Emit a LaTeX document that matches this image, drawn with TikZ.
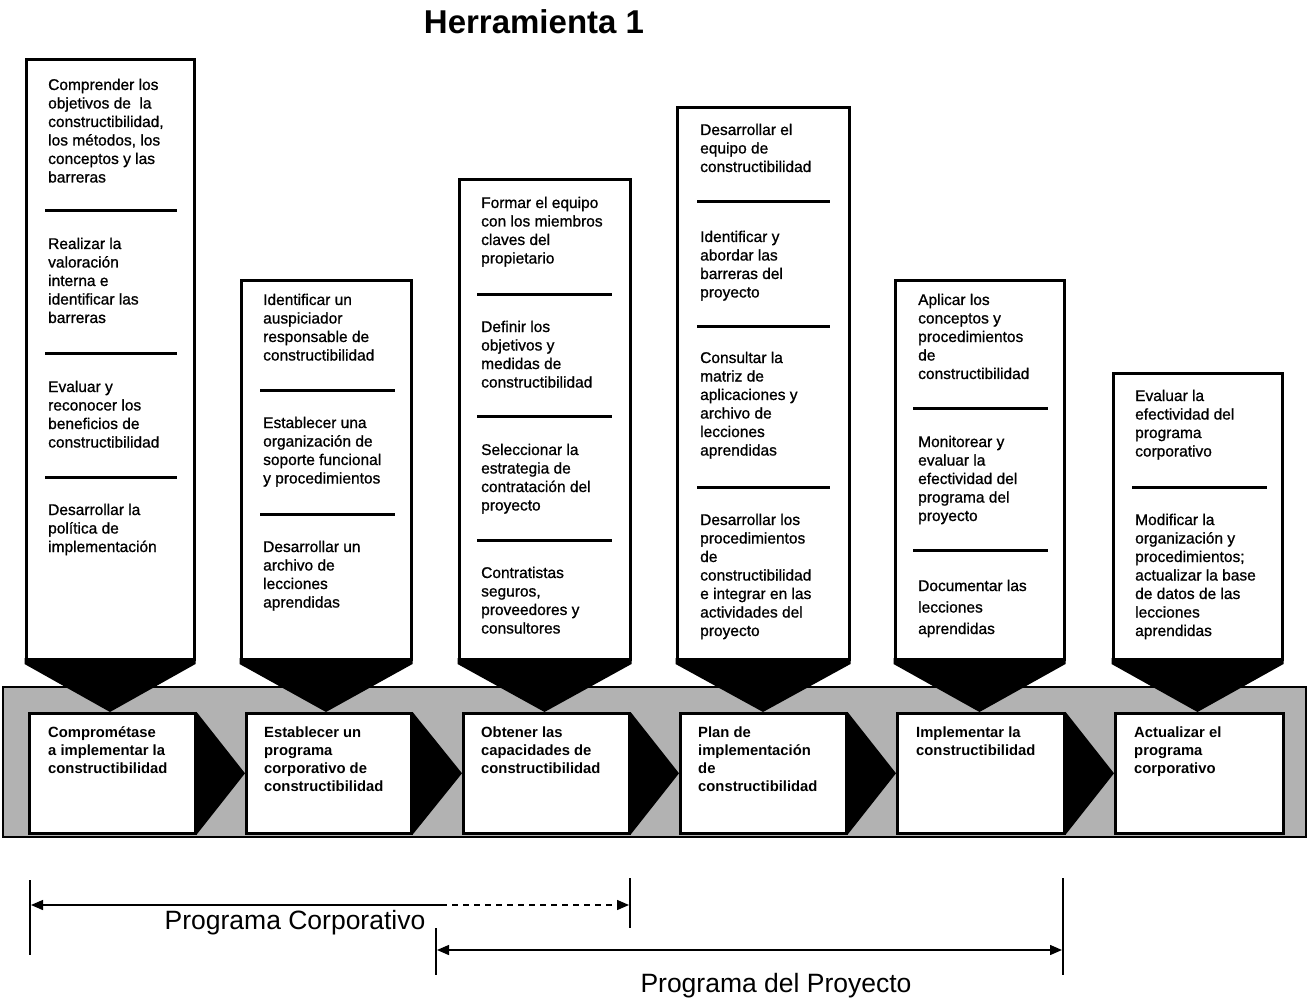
\documentclass[tikz,border=0pt]{standalone}
\usepackage{fontspec}
\setmainfont{Liberation Sans}
\newfontfamily\taskfont{Liberation Sans}[AutoFakeBold=0.9]
\usetikzlibrary{arrows.meta}
% a block of left-aligned lines whose baseline is that of its first line
\newcommand\lineblock[1]{\begin{tabular}[t]{@{}l@{}}#1\end{tabular}}
\begin{document}
\begin{tikzpicture}[x=1pt,y=-1pt,
  band/.style={draw=black,line width=1.6pt,fill=black!30},
  colbox/.style={draw=black,line width=3pt,fill=white},
  chevron/.style={fill=black},
  pointer/.style={fill=black},
  sepline/.style={line width=3pt},
  stepbox/.style={draw=black,line width=2.6pt,fill=white},
  item/.style={anchor=base west,inner sep=0pt,font=\taskfont\bfseries\fontsize{15.5}{18.5}\selectfont},
  steptext/.style={anchor=base west,inner sep=0pt,font=\bfseries\fontsize{14.8}{18.3}\selectfont},
  tick/.style={line width=1.4pt},
  span/.style={line width=1.4pt},
  tip/.style={-{Triangle[length=12pt,width=10pt]}},
  label/.style={anchor=base,inner sep=0pt,font=\fontsize{26.5}{30}\selectfont}
]
\useasboundingbox (0,0) rectangle (1311,1000);

% title
\node[anchor=base,inner sep=0pt,font=\bfseries\fontsize{33}{38}\selectfont] (title) at (534,34) {Herramienta 1};

% grey band holding the six steps
\fill[band] (3,687) rectangle (1306,837);

% step boxes
\node[stepbox,minimum width=166pt,minimum height=120pt,anchor=north west,inner sep=0pt] (s1) at (28,712) {};
\node[stepbox,minimum width=165pt,minimum height=120pt,anchor=north west,inner sep=0pt] (s2) at (245,712) {};
\node[stepbox,minimum width=166pt,minimum height=120pt,anchor=north west,inner sep=0pt] (s3) at (462,712) {};
\node[stepbox,minimum width=166pt,minimum height=120pt,anchor=north west,inner sep=0pt] (s4) at (679,712) {};
\node[stepbox,minimum width=167pt,minimum height=120pt,anchor=north west,inner sep=0pt] (s5) at (896,712) {};
\node[stepbox,minimum width=168pt,minimum height=120pt,anchor=north west,inner sep=0pt] (s6) at (1114,712) {};

% black pointers from one step to the next
\foreach \a/\b in {s1/s2,s2/s3,s3/s4,s4/s5,s5/s6}
  \fill[pointer] (\a.north east) -- (\b.west) -- (\a.south east) -- cycle;

% step labels
\node[steptext] (t1) at (48,737) {\lineblock{Comprométase\\a implementar la\\constructibilidad}};
\node[steptext] (t2) at (264,737) {\lineblock{Establecer un\\programa\\corporativo de\\constructibilidad}};
\node[steptext] (t3) at (481,737) {\lineblock{Obtener las\\capacidades de\\constructibilidad}};
\node[steptext] (t4) at (698,737) {\lineblock{Plan de\\implementación\\de\\constructibilidad}};
\node[steptext] (t5) at (916,737) {\lineblock{Implementar la\\constructibilidad}};
\node[steptext] (t6) at (1134,737) {\lineblock{Actualizar el\\programa\\corporativo}};

% columns of tasks above each step, each ending in a black point
\foreach \l/\r/\t/\n in {26/194/60/c1,241/411/280/c2,459/630/180/c3,677/849/108/c4,895/1064/280/c5,1113/1282/373/c6}{
  \path[colbox] (\l,661) -- (\l,\t) -- (\r,\t) -- (\r,661);
  \fill[chevron] (\l-1.5,658) -- (\r+1.5,658) -- (\r+1.5,664) -- ({(\l+\r)/2},712) -- (\l-1.5,664) -- cycle;
}

% column 1
\node[item] (c1a) at (48,90) {\lineblock{Comprender los\\objetivos de\ \ la\\constructibilidad,\\los métodos, los\\conceptos y las\\barreras}};
\draw[sepline] (45,211) -- (177,211);
\node[item] (c1b) at (48,249) {\lineblock{Realizar la\\valoración\\interna e\\identificar las\\barreras}};
\draw[sepline] (45,353) -- (177,353);
\node[item] (c1c) at (48,392) {\lineblock{Evaluar y\\reconocer los\\beneficios de\\constructibilidad}};
\draw[sepline] (45,477) -- (177,477);
\node[item] (c1d) at (48,515) {\lineblock{Desarrollar la\\política de\\implementación}};

% column 2
\node[item] (c2a) at (263,305) {\lineblock{Identificar un\\auspiciador\\responsable de\\constructibilidad}};
\draw[sepline] (260,390) -- (395,390);
\node[item] (c2b) at (263,428) {\lineblock{Establecer una\\organización de\\soporte funcional\\y procedimientos}};
\draw[sepline] (260,514) -- (395,514);
\node[item] (c2c) at (263,552) {\lineblock{Desarrollar un\\archivo de\\lecciones\\aprendidas}};

% column 3
\node[item] (c3a) at (481,208) {\lineblock{Formar el equipo\\con los miembros\\claves del\\propietario}};
\draw[sepline] (477,294) -- (612,294);
\node[item] (c3b) at (481,332) {\lineblock{Definir los\\objetivos y\\medidas de\\constructibilidad}};
\draw[sepline] (477,416) -- (612,416);
\node[item] (c3c) at (481,455) {\lineblock{Seleccionar la\\estrategia de\\contratación del\\proyecto}};
\draw[sepline] (477,540) -- (612,540);
\node[item] (c3d) at (481,578) {\lineblock{Contratistas\\seguros,\\proveedores y\\consultores}};

% column 4
\node[item] (c4a) at (700,135) {\lineblock{Desarrollar el\\equipo de\\constructibilidad}};
\draw[sepline] (697,202) -- (830,202);
\node[item] (c4b) at (700,242) {\lineblock{Identificar y\\abordar las\\barreras del\\proyecto}};
\draw[sepline] (697,326) -- (830,326);
\node[item] (c4c) at (700,363) {\lineblock{Consultar la\\matriz de\\aplicaciones y\\archivo de\\lecciones\\aprendidas}};
\draw[sepline] (697,487) -- (830,487);
\node[item] (c4d) at (700,525) {\lineblock{Desarrollar los\\procedimientos\\de\\constructibilidad\\e integrar en las\\actividades del\\proyecto}};

% column 5
\node[item] (c5a) at (918,305) {\lineblock{Aplicar los\\conceptos y\\procedimientos\\de\\constructibilidad}};
\draw[sepline] (913,408) -- (1048,408);
\node[item] (c5b) at (918,447) {\lineblock{Monitorear y\\evaluar la\\efectividad del\\programa del\\proyecto}};
\draw[sepline] (913,550) -- (1048,550);
\node[item,font=\taskfont\bfseries\fontsize{15.5}{21.5}\selectfont] (c5c) at (918,591) {\lineblock{Documentar las\\lecciones\\aprendidas}};

% column 6
\node[item] (c6a) at (1135,401) {\lineblock{Evaluar la\\efectividad del\\programa\\corporativo}};
\draw[sepline] (1132,487) -- (1267,487);
\node[item] (c6b) at (1135,525) {\lineblock{Modificar la\\organización y\\procedimientos;\\actualizar la base\\de datos de las\\lecciones\\aprendidas}};

% spans of the two programmes
\coordinate (pcT1) at (30,880);  \coordinate (pcB1) at (30,955);
\coordinate (pcT2) at (630,878); \coordinate (pcB2) at (630,928);
\coordinate (ppT1) at (436,928); \coordinate (ppB1) at (436,975);
\coordinate (ppT2) at (1063,878);\coordinate (ppB2) at (1063,975);
\draw[tick] (pcT1) -- (pcB1);
\draw[tick] (pcT2) -- (pcB2);
\draw[tick] (ppT1) -- (ppB1);
\draw[tick] (ppT2) -- (ppB2);

\coordinate (pcL) at (31,905);
\coordinate (pcM) at (441,905);
\coordinate (pcR) at (629,905);
\draw[span,tip] (pcM) -- (pcL);
\draw[span,tip,dash pattern=on 6pt off 5pt] (pcM) -- (pcR);

\coordinate (ppL) at (437,950);
\coordinate (ppR) at (1062,950);
\draw[span,{Triangle[length=12pt,width=10pt]}-{Triangle[length=12pt,width=10pt]}] (ppL) -- (ppR);

\node[label] (pcText) at (295,929) {Programa Corporativo};
\node[label] (ppText) at (776,992) {Programa del Proyecto};
\end{tikzpicture}
\end{document}
